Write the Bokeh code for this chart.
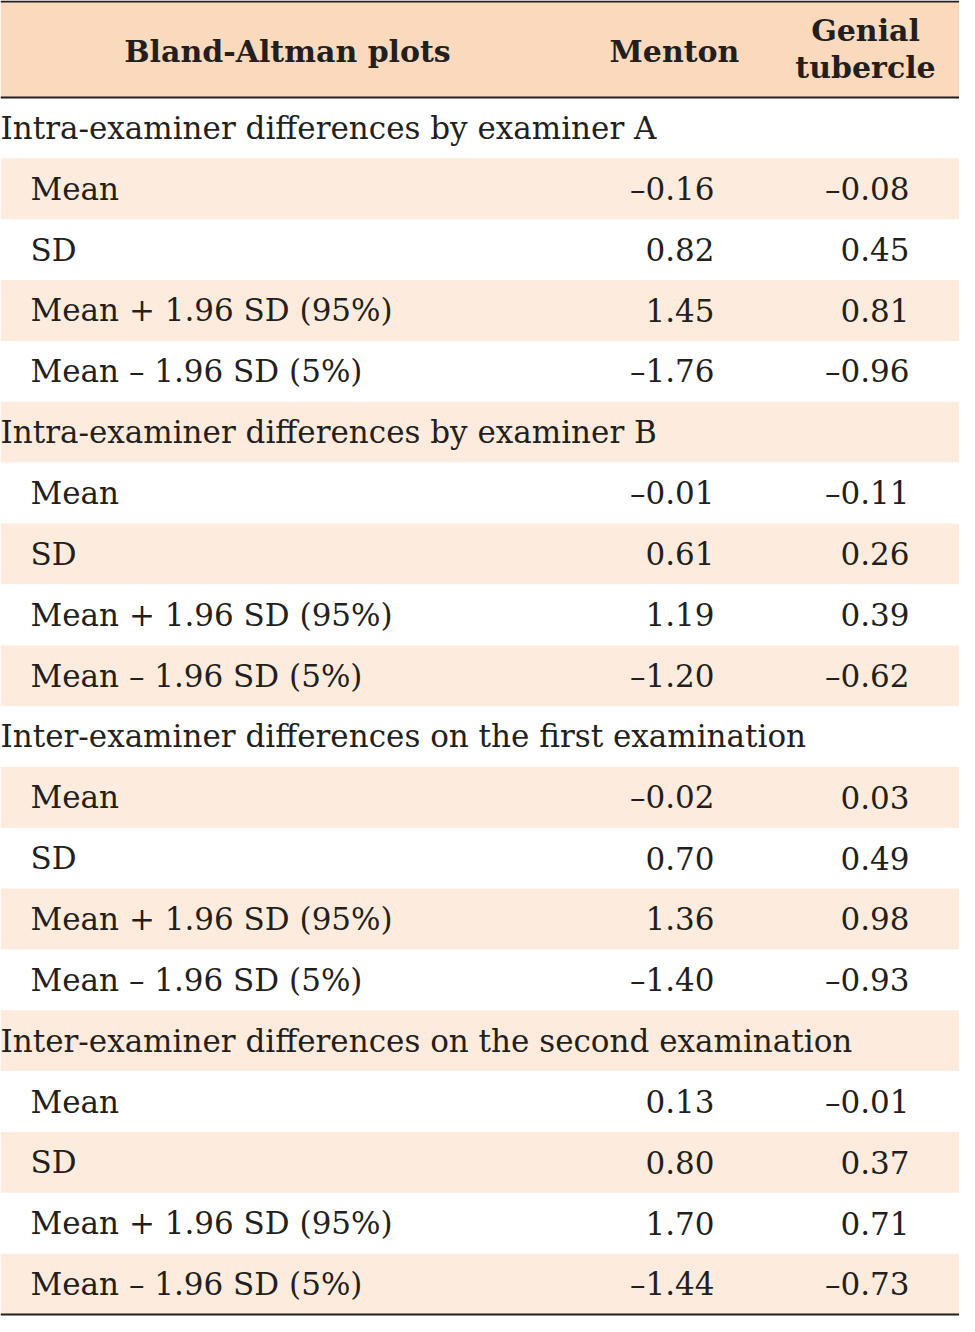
from bokeh.plotting import figure
from bokeh.models import Range1d
from bokeh.core.properties import value
from bokeh.embed import file_html
from bokeh.resources import INLINE

# ---- data ----
col_headers = ["Bland-Altman plots", "Menton", "Genial\ntubercle"]
groups = [
    "Intra-examiner differences by examiner A",
    "Intra-examiner differences by examiner B",
    "Inter-examiner differences on the first examination",
    "Inter-examiner differences on the second examination",
]
stats = ["Mean", "SD", "Mean + 1.96 SD (95%)", "Mean \u2013 1.96 SD (5%)"]
menton = [
    [-0.16, 0.82, 1.45, -1.76],
    [-0.01, 0.61, 1.19, -1.20],
    [-0.02, 0.70, 1.36, -1.40],
    [0.13, 0.80, 1.70, -1.44],
]
genial = [
    [-0.08, 0.45, 0.81, -0.96],
    [-0.11, 0.26, 0.39, -0.62],
    [0.03, 0.49, 0.98, -0.93],
    [-0.01, 0.37, 0.71, -0.73],
]

# ---- layout ----
W, H = 959, 1316
FONT = "DejaVu Serif"
FS = "31px"
FS_HDR = "30px"
HDR_COLOR = "#fad9bd"
ROW_COLOR = "#fdecdd"
INK = "#231f20"

top = 1
hdr_bot = 97
bot = 1314
n_rows = len(groups) * (1 + len(stats))
rh = (bot - hdr_bot) / n_rows

x_label_grp = 0
x_label_sub = 30
x_menton = 714
x_genial = 909

fmt = lambda v: f"{v:.2f}".replace("-", "\u2013")

p = figure(width=W, height=H, output_backend="svg", toolbar_location=None,
           x_range=Range1d(0, W), y_range=Range1d(H, 0),
           min_border=0, outline_line_color=None)
p.axis.visible = False
p.grid.visible = False
p.background_fill_color = "white"
p.border_fill_color = "white"

# header band
p.quad(left=[0], right=[W], top=[top], bottom=[hdr_bot], fill_color=HDR_COLOR, line_color=None)

labels, lx, ly, nums_m, nums_g, ny = [], [], [], [], [], []
shade_top, shade_bot = [], []
i = 0
for g, grp in enumerate(groups):
    y0 = hdr_bot + i * rh
    if i % 2 == 1:
        shade_top.append(y0); shade_bot.append(y0 + rh)
    labels.append(grp); lx.append(x_label_grp); ly.append(y0 + rh / 2)
    i += 1
    for s, st in enumerate(stats):
        y0 = hdr_bot + i * rh
        if i % 2 == 1:
            shade_top.append(y0); shade_bot.append(y0 + rh)
        labels.append(st); lx.append(x_label_sub); ly.append(y0 + rh / 2)
        nums_m.append(fmt(menton[g][s])); nums_g.append(fmt(genial[g][s])); ny.append(y0 + rh / 2)
        i += 1

p.quad(left=0, right=W, top=shade_top, bottom=shade_bot, fill_color=ROW_COLOR, line_color=None)

# rules
p.segment(x0=[0, 0, 0], x1=[W, W, W], y0=[top, hdr_bot, bot], y1=[top, hdr_bot, bot],
          line_color=INK, line_width=2)

# header text
p.text(x=[287], y=[(top + hdr_bot) / 2 + 2], text=[col_headers[0]], text_font=value(FONT),
       text_font_size=FS_HDR, text_font_style="bold", text_align="center", text_baseline="middle",
       text_color=INK)
p.text(x=[674], y=[(top + hdr_bot) / 2 + 2], text=[col_headers[1]], text_font=value(FONT),
       text_font_size=FS_HDR, text_font_style="bold", text_align="center", text_baseline="middle",
       text_color=INK)
gl = col_headers[2].split("\n")
p.text(x=[865, 865], y=[30, 67], text=gl, text_font=value(FONT),
       text_font_size=FS_HDR, text_font_style="bold", text_align="center", text_baseline="middle",
       text_color=INK)

# body text
p.text(x=lx, y=ly, text=labels, text_font=value(FONT), text_font_size=FS,
       text_align="left", text_baseline="middle", text_color=INK)
p.text(x=[x_menton] * len(ny), y=ny, text=nums_m, text_font=value(FONT), text_font_size=FS,
       text_align="right", text_baseline="middle", text_color=INK)
p.text(x=[x_genial] * len(ny), y=ny, text=nums_g, text_font=value(FONT), text_font_size=FS,
       text_align="right", text_baseline="middle", text_color=INK)

open("out.html", "w").write(file_html(p, INLINE))
